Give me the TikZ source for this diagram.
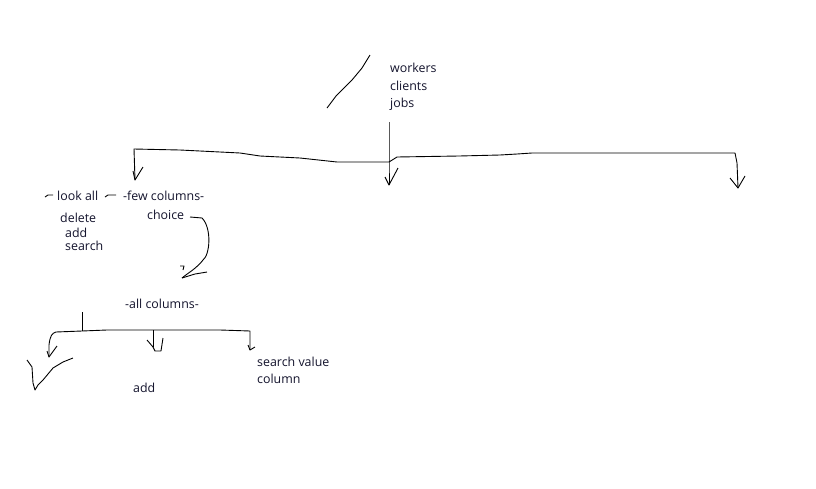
\documentclass[tikz,border=0pt]{standalone}
\usepackage{fontspec}
\setmainfont{Open Sans}
\begin{document}
\begin{tikzpicture}[x=1pt,y=-1pt,
  lbl/.style={inner sep=0pt,anchor=base west,text={rgb,255:red,20;green,20;blue,45},font=\fontsize{12.4}{14}\selectfont},
  pen/.style={line width=0.9pt,black,line join=round}]
\useasboundingbox[fill=white] (0,0) rectangle (816,488);

% texts
\node[lbl] (workers) at (390,72) {workers};
\node[lbl] (clients) at (390,90) {clients};
\node[lbl] (jobs) at (390,107) {jobs};
\node[lbl] (lookall) at (57,200) {look all};
\node[lbl] (few) at (123,200) {-few columns-};
\node[lbl] (delete) at (60,222) {delete};
\node[lbl] (add1) at (65,237) {add};
\node[lbl] (search) at (65,250) {search};
\node[lbl] (choice) at (147,219) {choice};
\node[lbl] (allc) at (125,308) {-all columns-};
\node[lbl] (sv) at (257,366) {search value};
\node[lbl] (col) at (257,383) {column};
\node[lbl] (add2) at (133,392) {add};

% coordinates
\coordinate (top) at (389,122);
\coordinate (junc) at (389,162);
\coordinate (tipL) at (135,180);
\coordinate (tipM) at (389,185);
\coordinate (tipR) at (738,188);
\coordinate (cstart) at (190,217);
\coordinate (ctip) at (182,278);
\coordinate (stem) at (82,312);
\coordinate (bL) at (49,357);
\coordinate (bM) at (155,351);
\coordinate (bR) at (250,350);

% slash
\draw[pen] (370,55) -- (362,68) -- (352,80) -- (341,91) -- (336,96) -- (327,108);

% top tree
\draw[pen] (top) -- (junc) -- (tipM);
\draw[pen] (tipL) -- (134,149) -- (180,150) -- (240,153) -- (260,156) -- (300,158) -- (337,162) -- (junc);
\draw[pen] (junc) -- (397,157) -- (459,156) -- (500,155) -- (517,154) -- (532,153) -- (735,153) -- (737,163) -- (tipR);
% arrow heads
\draw[pen] (133,171) -- (tipL) -- (143,167);
\draw[pen] (385,177) -- (tipM) -- (398,168);
\draw[pen] (730,178) -- (tipR) -- (745,176);

% dashes around look all
\draw[pen] (45,197) -- (48,195) -- (53,195);
\draw[pen] (105,197) -- (108,195) -- (116,195);

% curved arrow from choice
\draw[pen] (cstart) -- (202,218) .. controls (212,228) and (210,255) .. (203,260) .. controls (197,268) and (188,273) .. (ctip);
\draw[pen] (180,266) -- (184,266) -- (183,270);
\draw[pen] (ctip) -- (195,274) -- (207,272);

% bottom tree
\draw[pen] (stem) -- (82,331);
\draw[pen] (bL) -- (49,345) .. controls (50,336) and (52,333) .. (56,332) -- (82,331) -- (107,330) -- (220,330) -- (250,331) -- (bR);
\draw[pen] (153,330) -- (153,347);
\draw[pen] (47,351) -- (bL) -- (57,346);
\draw[pen] (147,340) -- (153,347) -- (bM) -- (161,351) -- (163,338);
\draw[pen] (248,345) -- (bR) -- (255,347);

% V scribble
\draw[pen] (27,360) -- (32,367) -- (33,383) -- (35,390) -- (38,385) -- (43,380) -- (53,368) -- (63,362) -- (73,358);
\end{tikzpicture}
\end{document}
